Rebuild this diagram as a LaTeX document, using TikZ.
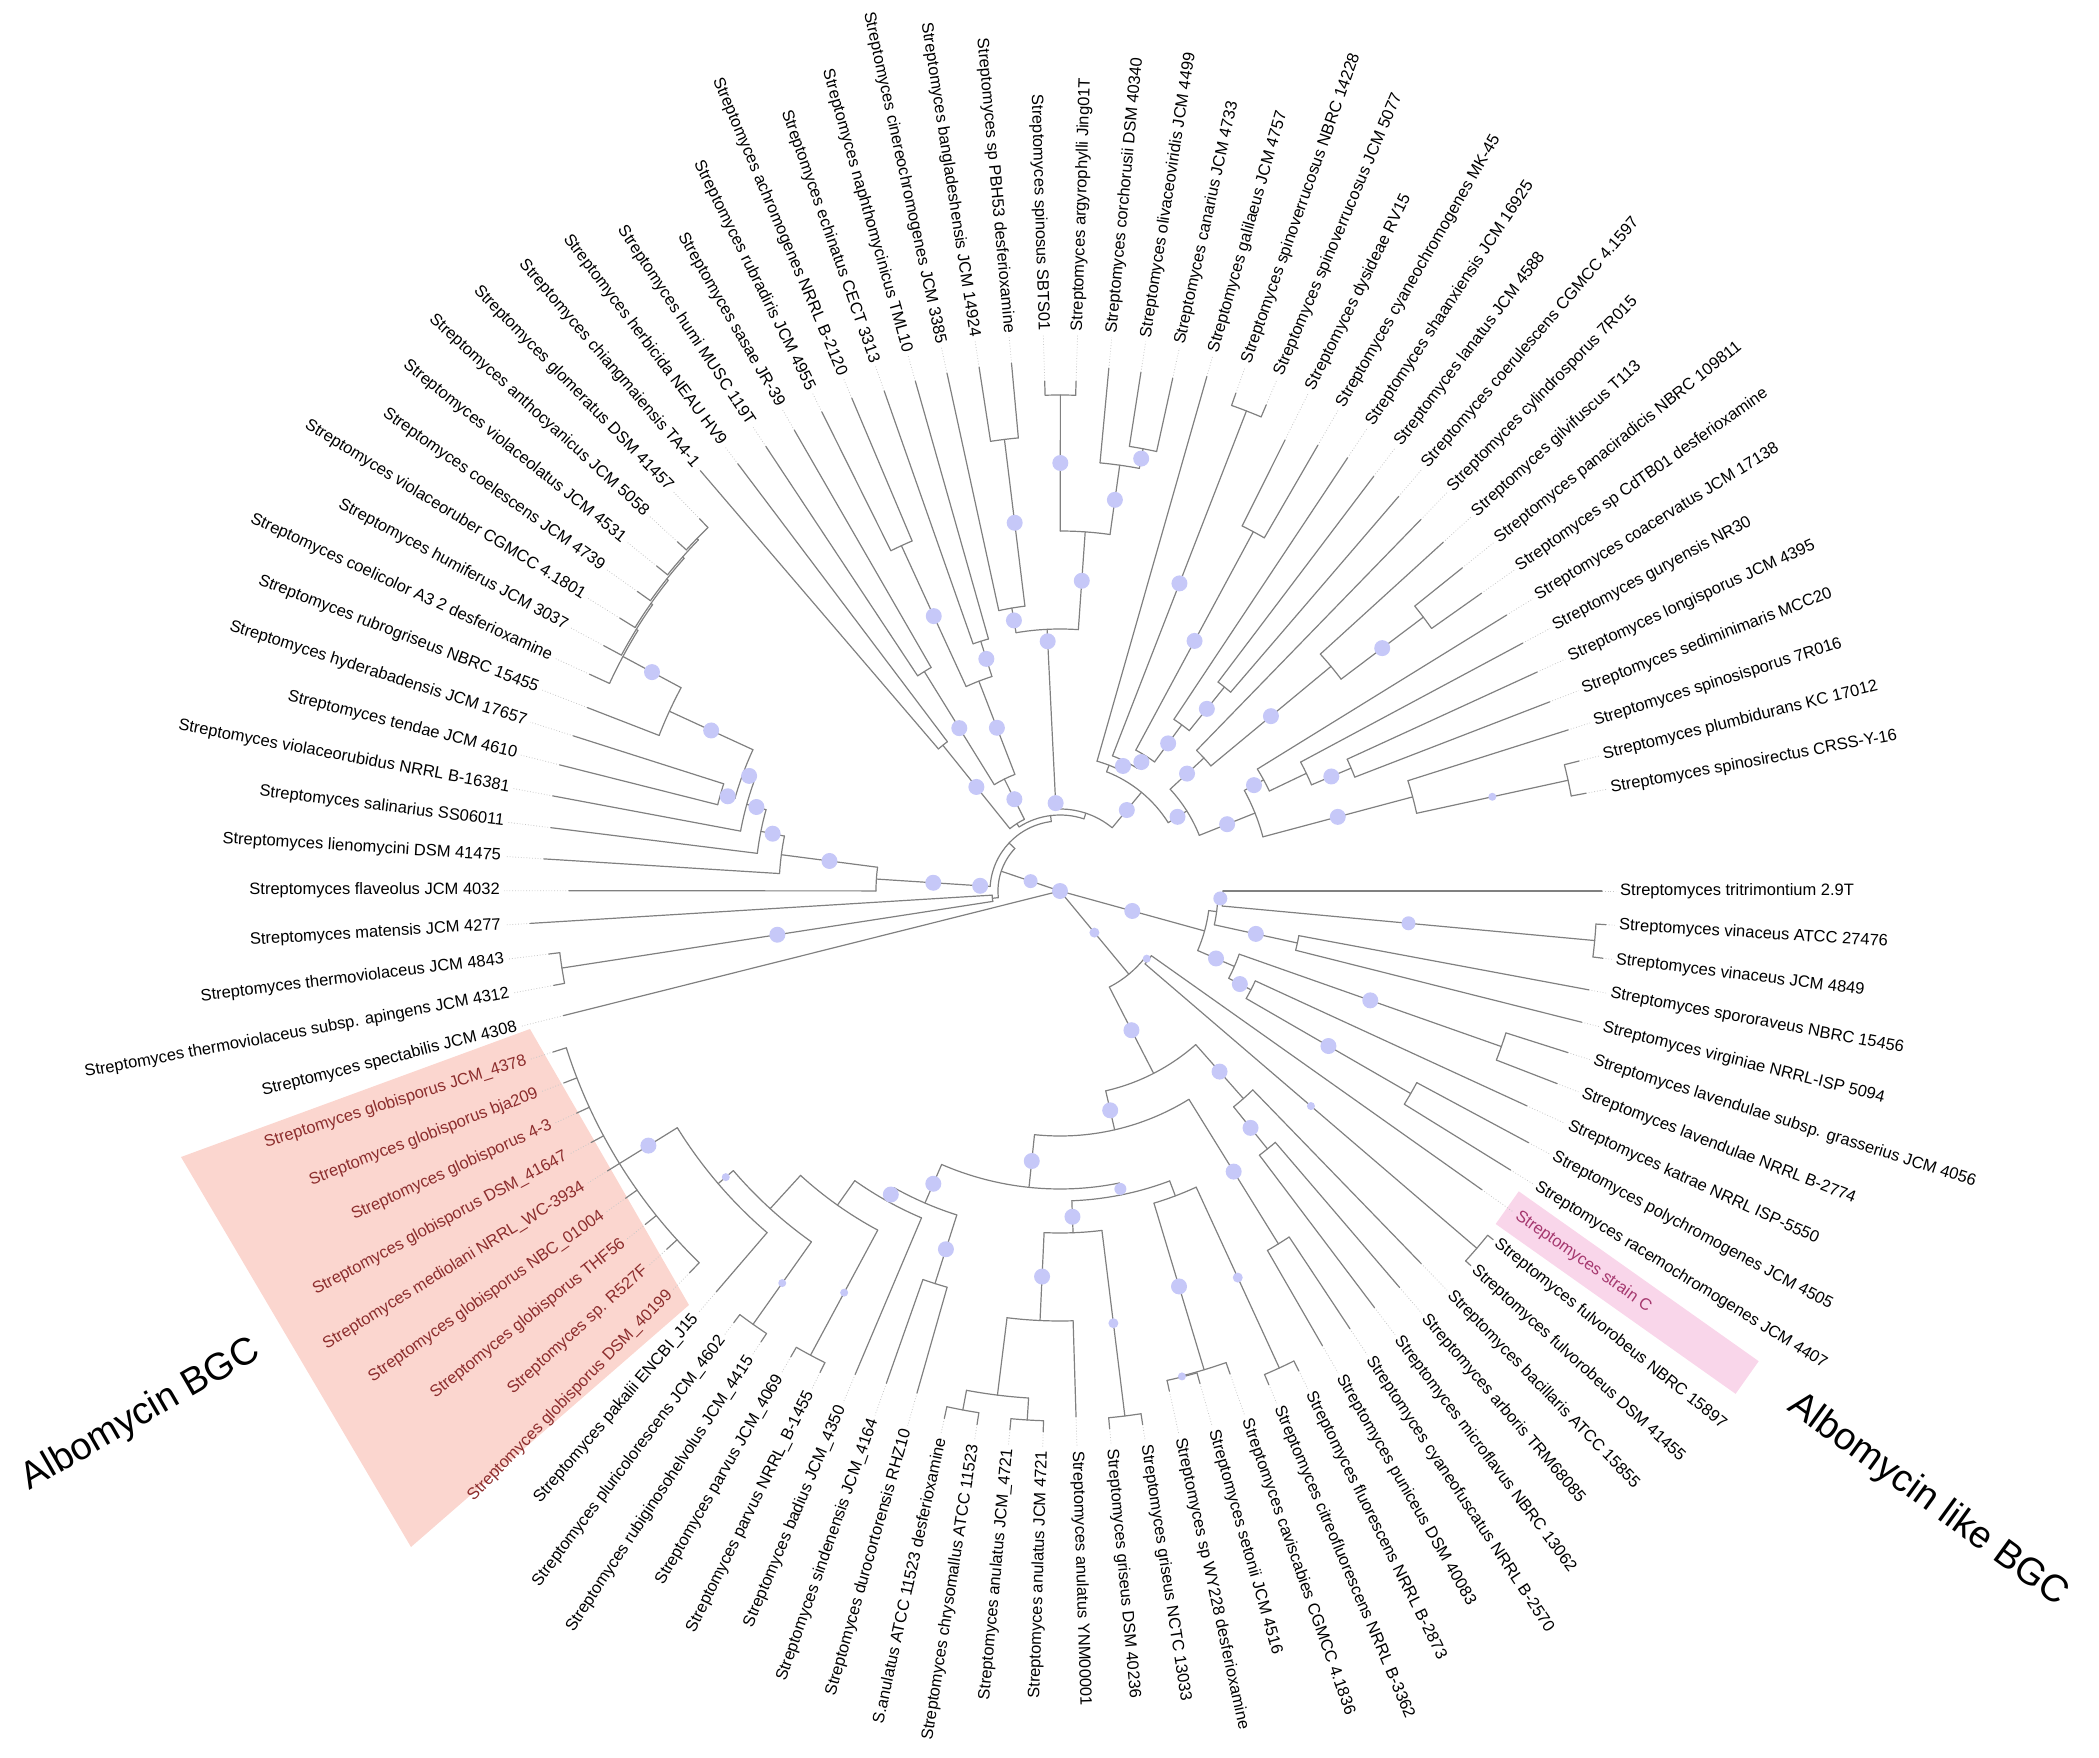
\documentclass[tikz,border=0pt]{standalone}
\usepackage{fontspec}
\setmainfont{Liberation Sans}
\definecolor{branch}{RGB}{128,128,128}
\definecolor{bsfill}{RGB}{198,200,248}
\definecolor{salmon}{RGB}{251,214,207}
\definecolor{pinkc}{RGB}{249,214,234}
\definecolor{albred}{RGB}{140,45,45}
\definecolor{strainc}{RGB}{165,55,110}
\tikzset{
  br/.style={draw=branch, line width=1.2pt, line cap=round},
  leafdot/.style={draw=black!22, line width=0.8pt, dotted},
  bsdot/.style={fill=bsfill},
  tip/.style={font=\fontsize{16.5}{19}\selectfont, inner sep=0pt},
  albo/.style={text=albred},
  strc/.style={text=strainc},
  bgc/.style={font=\fontsize{38}{44}\selectfont}
}
% leaf k sits at angle -3.53*(k-1)
\newcommand{\ang}[1]{-3.53*(#1-1)}
% leaf: index, tip radius, label, label style
\newcommand{\lf}[4]{%
  \expandafter\gdef\csname P#1\endcsname{#1}%
  \expandafter\gdef\csname R#1\endcsname{#2}%
  \expandafter\gdef\csname D#1\endcsname{0}%
  \pgfmathsetmacro\leafang{\ang{#1}}%
  \draw[leafdot] (\leafang:#2) -- (\leafang:556);
  \pgfmathtruncatemacro\side{cos(\leafang)>0}%
  \ifnum\side=1
    \node[tip,#4,anchor=west,rotate=\leafang] at (\leafang:560) {#3};
  \else
    \node[tip,#4,anchor=east,rotate=\leafang+180] at (\leafang:560) {#3};
  \fi}
% branch from a parent radius out to a child, bootstrap dot half way
\newcommand{\stem}[3]{%
  \draw[br] (#2:#3) -- (#2:\csname R#1\endcsname);
  \ifdim\csname D#1\endcsname pt>0pt
    \fill[bsdot] (#2:{(#3+\csname R#1\endcsname)/2}) circle[radius=\csname D#1\endcsname];
  \fi}
% inner node: name, child, child, radius, dot size
\newcommand{\nd}[5]{%
  \pgfmathsetmacro\posA{\csname P#2\endcsname}%
  \pgfmathsetmacro\posB{\csname P#3\endcsname}%
  \pgfmathsetmacro\pmid{(\posA+\posB)/2}%
  \expandafter\xdef\csname P#1\endcsname{\pmid}%
  \expandafter\gdef\csname R#1\endcsname{#4}%
  \expandafter\gdef\csname D#1\endcsname{#5}%
  \pgfmathsetmacro\angA{\ang{\posA}}%
  \pgfmathsetmacro\angB{\ang{\posB}}%
  \draw[br] (\angA:#4) arc[start angle=\angA, end angle=\angB, radius=#4];
  \stem{#2}{\angA}{#4}%
  \stem{#3}{\angB}{#4}}
% flat node over a run of leaves
\newcommand{\poly}[5]{%
  \pgfmathsetmacro\pmid{(#2+#3)/2}%
  \expandafter\xdef\csname P#1\endcsname{\pmid}%
  \expandafter\gdef\csname R#1\endcsname{#4}%
  \expandafter\gdef\csname D#1\endcsname{#5}%
  \pgfmathsetmacro\angA{\ang{#2}}%
  \pgfmathsetmacro\angB{\ang{#3}}%
  \draw[br] (\angA:#4) arc[start angle=\angA, end angle=\angB, radius=#4];
  \foreach \k in {#2,...,#3}{\pgfmathsetmacro\angK{\ang{\k}}\stem{\k}{\angK}{#4}}}
\newcommand{\rootst}[1]{%
  \pgfmathsetmacro\angR{\ang{\csname P#1\endcsname}}\stem{#1}{\angR}{0}}
\newcommand{\xdot}[3]{%
  \pgfmathsetmacro\angX{\ang{\csname P#1\endcsname}}\fill[bsdot] (\angX:#2) circle[radius=#3];}

\begin{document}
\begin{tikzpicture}[x=1pt,y=1pt]
\useasboundingbox (-1060,-866) rectangle (1039,891);
\fill[salmon] (-530,-138) -- (-879,-266) -- (-649,-656) -- (-371,-414) -- cycle;
\fill[pinkc,rotate=-35.3] (548,-20) rectangle (842,20);

\lf{1}{542}{Streptomyces tritrimontium 2.9T}{}
\lf{2}{547}{Streptomyces vinaceus ATCC 27476}{}
\lf{3}{547}{Streptomyces vinaceus JCM 4849}{}
\lf{4}{538}{Streptomyces spororaveus NBRC 15456}{}
\lf{5}{538}{Streptomyces virginiae NRRL-ISP 5094}{}
\lf{6}{533}{Streptomyces lavendulae subsp. grasserius JCM 4056}{}
\lf{7}{533}{Streptomyces lavendulae NRRL B-2774}{}
\lf{8}{514}{Streptomyces katrae NRRL ISP-5550}{}
\lf{9}{532}{Streptomyces polychromogenes JCM 4505}{}
\lf{10}{530}{Streptomyces racemochromogenes JCM 4407}{}
\lf{11}{517}{Streptomyces strain C}{strc}
\lf{12}{556}{Streptomyces fulvorobeus NBRC 15897}{}
\lf{13}{556}{Streptomyces fulvorobeus DSM 41455}{}
\lf{14}{519}{Streptomyces bacillaris ATCC 15855}{}
\lf{15}{522}{Streptomyces arboris TRM68085}{}
\lf{16}{522}{Streptomyces microflavus NBRC 13062}{}
\lf{17}{525}{Streptomyces cyaneofuscatus NRRL B-2570}{}
\lf{18}{525}{Streptomyces puniceus DSM 40083}{}
\lf{19}{536}{Streptomyces fluorescens NRRL B-2873}{}
\lf{20}{536}{Streptomyces citreofluorescens NRRL B-3362}{}
\lf{21}{512}{Streptomyces caviscabies CGMCC 4.1836}{}
\lf{22}{512}{Streptomyces setonii JCM 4516}{}
\lf{23}{512}{Streptomyces sp WY228 desferioxamine}{}
\lf{24}{540}{Streptomyces griseus NCTC 13033}{}
\lf{25}{540}{Streptomyces griseus DSM 40236}{}
\lf{26}{526}{Streptomyces anulatus YNM00001}{}
\lf{27}{541}{Streptomyces anulatus JCM 4721}{}
\lf{28}{541}{Streptomyces anulatus JCM\_4721}{}
\lf{29}{540}{Streptomyces chrysomallus ATCC 11523}{}
\lf{30}{540}{S.anulatus ATCC 11523 desferioxamine}{}
\lf{31}{522}{Streptomyces durocortorensis RHZ10}{}
\lf{32}{522}{Streptomyces sindenensis JCM\_4164}{}
\lf{33}{525}{Streptomyces badius JCM\_4350}{}
\lf{34}{538}{Streptomyces parvus NRRL\_B-1455}{}
\lf{35}{538}{Streptomyces parvus JCM\_4069}{}
\lf{36}{541}{Streptomyces rubiginosohelvolus JCM\_4415}{}
\lf{37}{541}{Streptomyces pluricolorescens JCM\_4602}{}
\lf{38}{528}{Streptomyces pakalii ENCBI\_J15}{}
\lf{39}{532}{Streptomyces globisporus DSM\_40199}{albo}
\lf{40}{532}{Streptomyces sp. R527F}{albo}
\lf{41}{532}{Streptomyces globisporus THF56}{albo}
\lf{42}{532}{Streptomyces globisporus NBC\_01004}{albo}
\lf{43}{532}{Streptomyces mediolani NRRL\_WC-3934}{albo}
\lf{44}{532}{Streptomyces globisporus DSM\_41647}{albo}
\lf{45}{532}{Streptomyces globisporus 4-3}{albo}
\lf{46}{532}{Streptomyces globisporus bja209}{albo}
\lf{47}{532}{Streptomyces globisporus JCM\_4378}{albo}
\lf{48}{512}{Streptomyces spectabilis JCM 4308}{}
\lf{49}{515}{Streptomyces thermoviolaceus subsp. apingens JCM 4312}{}
\lf{50}{515}{Streptomyces thermoviolaceus JCM 4843}{}
\lf{51}{531}{Streptomyces matensis JCM 4277}{}
\lf{52}{491}{Streptomyces flaveolus JCM 4032}{}
\lf{53}{517}{Streptomyces lienomycini DSM 41475}{}
\lf{54}{513}{Streptomyces salinarius SS06011}{}
\lf{55}{516}{Streptomyces violaceorubidus NRRL B-16381}{}
\lf{56}{516}{Streptomyces tendae JCM 4610}{}
\lf{57}{511}{Streptomyces hyderabadensis JCM 17657}{}
\lf{58}{507}{Streptomyces rubrogriseus NBRC 15455}{}
\lf{59}{518}{Streptomyces coelicolor A3 2 desferioxamine}{}
\lf{60}{518}{Streptomyces humiferus JCM 3037}{}
\lf{61}{518}{Streptomyces violaceoruber CGMCC 4.1801}{}
\lf{62}{518}{Streptomyces coelescens JCM 4739}{}
\lf{63}{518}{Streptomyces violaceolatus JCM 4531}{}
\lf{64}{518}{Streptomyces anthocyanicus JCM 5058}{}
\lf{65}{518}{Streptomyces glomeratus DSM 41457}{}
\lf{66}{553}{Streptomyces chiangmaiensis TA4-1}{}
\lf{67}{535}{Streptomyces herbicida NEAU HV9}{}
\lf{68}{533}{Streptomyces humi MUSC 119T}{}
\lf{69}{532}{Streptomyces sasae JR-39}{}
\lf{70}{535}{Streptomyces rubradiris JCM 4955}{}
\lf{71}{535}{Streptomyces achromogenes NRRL B-2120}{}
\lf{72}{530}{Streptomyces echinatus CECT 3313}{}
\lf{73}{530}{Streptomyces naphthomycinicus TML10}{}
\lf{74}{530}{Streptomyces cinereochromogenes JCM 3385}{}
\lf{75}{530}{Streptomyces bangladeshensis JCM 14924}{}
\lf{76}{530}{Streptomyces sp PBH53 desferioxamine}{}
\lf{77}{510}{Streptomyces spinosus SBTS01}{}
\lf{78}{510}{Streptomyces argyrophylli Jing01T}{}
\lf{79}{525}{Streptomyces corchorusii DSM 40340}{}
\lf{80}{525}{Streptomyces olivaceoviridis JCM 4499}{}
\lf{81}{525}{Streptomyces canarius JCM 4733}{}
\lf{82}{535}{Streptomyces galilaeus JCM 4757}{}
\lf{83}{528}{Streptomyces spinoverrucosus NBRC 14228}{}
\lf{84}{528}{Streptomyces spinoverrucosus JCM 5077}{}
\lf{85}{504}{Streptomyces dysideae RV15}{}
\lf{86}{515}{Streptomyces cyaneochromogenes MK-45}{}
\lf{87}{520}{Streptomyces shaanxiensis JCM 16925}{}
\lf{88}{520}{Streptomyces lanatus JCM 4588}{}
\lf{89}{520}{Streptomyces coerulescens CGMCC 4.1597}{}
\lf{90}{518}{Streptomyces cylindrosporus 7R015}{}
\lf{91}{518}{Streptomyces gilvifuscus T113}{}
\lf{92}{516}{Streptomyces panaciradicis NBRC 109811}{}
\lf{93}{516}{Streptomyces sp CdTB01 desferioxamine}{}
\lf{94}{525}{Streptomyces coacervatus JCM 17138}{}
\lf{95}{525}{Streptomyces guryensis NR30}{}
\lf{96}{525}{Streptomyces longisporus JCM 4395}{}
\lf{97}{525}{Streptomyces sediminimaris MCC20}{}
\lf{98}{533}{Streptomyces spinosisporus 7R016}{}
\lf{99}{535}{Streptomyces plumbidurans KC 17012}{}
\lf{100}{535}{Streptomyces spinosirectus CRSS-Y-16}{}

% right clade
\nd{n23}{2}{3}{537}{7}
\nd{a1}{1}{n23}{163}{7}
\nd{n45}{4}{5}{243}{8}
\nd{r1}{a1}{n45}{158}{0}
\nd{n67}{6}{7}{468}{8}
\nd{n910}{9}{10}{405}{8}
\nd{c8}{8}{n910}{215}{8}
\nd{r2}{n67}{c8}{190}{8}
\nd{rr}{r1}{r2}{150}{8}
% lower clade
\nd{n1213}{12}{13}{549}{4}
\nd{q}{11}{n1213}{112}{4}
\nd{n1516}{15}{16}{331}{8}
\nd{qq}{14}{n1516}{277}{8}
\nd{n1718}{17}{18}{415}{8}
\nd{n2223}{22}{23}{501}{4}
\nd{n2123}{21}{n2223}{500}{8}
\nd{n1920}{19}{20}{525}{5}
\nd{b5}{n2123}{n1920}{326}{0}
\nd{n2425}{24}{25}{529}{5}
\nd{n2728}{27}{28}{530}{0}
\nd{n2930}{29}{30}{528}{0}
\nd{bd}{n2930}{n2728}{508}{0}
\nd{be}{26}{bd}{430}{8}
\nd{bf}{n2425}{be}{342}{8}
\nd{b4}{bf}{b5}{310}{6}
\nd{n3132}{31}{32}{412}{8}
\nd{n3435}{34}{35}{527}{4}
\nd{n3637}{36}{37}{531}{4}
\poly{s}{39}{47}{518}{8}
\nd{v}{s}{38}{450}{4}
\nd{w4}{v}{n3637}{430}{0}
\nd{w3}{w4}{n3435}{385}{0}
\nd{w2}{w3}{33}{355}{8}
\nd{w}{w2}{n3132}{340}{8}
\nd{b3}{w}{b4}{298}{8}
\nd{b2}{b3}{n1718}{245}{8}
\nd{b1}{b2}{qq}{205}{8}
\nd{b0}{b1}{q}{108}{5}
% left ladder
\nd{n4950}{49}{50}{504}{8}
\nd{x1}{51}{n4950}{68}{0}
\nd{k1}{64}{65}{506}{0}
\nd{k2}{63}{k1}{504}{0}
\nd{k3}{62}{k2}{502}{0}
\nd{k4}{61}{k3}{500}{0}
\nd{k5}{60}{k4}{498}{0}
\nd{comb}{59}{k5}{496}{8}
\nd{n58}{58}{comb}{430}{8}
\nd{n5657}{56}{57}{353}{8}
\nd{l5}{n58}{n5657}{338}{8}
\nd{l4}{l5}{55}{325}{8}
\nd{l3}{l4}{54}{305}{8}
\nd{l2}{l3}{53}{281}{8}
\nd{l1}{l2}{52}{184}{8}
% upper clades
\nd{n6667}{66}{67}{187}{8}
\nd{n6869}{68}{69}{258}{8}
\nd{n7071}{70}{71}{380}{8}
\nd{n7273}{72}{73}{262}{8}
\nd{tla}{n7071}{n7273}{225}{8}
\nd{tlq}{n6869}{tla}{125}{8}
\nd{tl}{n6667}{tlq}{80}{0}
\nd{n7576}{75}{76}{455}{8}
\nd{n7476}{74}{n7576}{287}{8}
\nd{n7778}{77}{78}{496}{8}
\nd{n8081}{80}{81}{450}{8}
\nd{n7981}{79}{n8081}{430}{8}
\nd{tm1}{n7778}{n7981}{360}{8}
\nd{tm2}{n7476}{tm1}{262}{0}
\nd{n8384}{83}{84}{515}{8}
\nd{n8586}{85}{86}{408}{8}
\nd{n8889}{88}{89}{262}{8}
\nd{n8789}{87}{n8889}{206}{8}
\nd{tra3}{n8586}{n8789}{160}{8}
\nd{tra2}{n8384}{tra3}{145}{8}
\nd{tra}{82}{tra2}{135}{0}
\nd{n9293}{92}{93}{455}{8}
\nd{n9193}{91}{n9293}{352}{8}
\nd{trb1}{90}{n9193}{196}{8}
\nd{n9697}{96}{97}{316}{8}
\nd{trc}{95}{n9697}{273}{0}
\nd{trb2}{94}{trc}{232}{8}
\nd{n99100}{99}{100}{520}{4}
\nd{trd}{98}{n99100}{365}{8}
\nd{tre}{trb2}{trd}{210}{8}
\nd{trb}{trb1}{tre}{150}{8}
\nd{tr}{tra}{trb}{128}{8}
\nd{ta}{tm2}{tr}{82}{0}
\nd{tb}{tl}{ta}{76}{0}
\nd{m2}{l1}{tb}{70}{0}
\nd{m1}{x1}{m2}{62}{7}
% root
\rootst{m1}
\rootst{48}
\rootst{b0}
\rootst{rr}
\fill[bsdot] (0,0) circle[radius=8];
\xdot{l1}{80}{8}
\xdot{tm2}{88}{8}
\xdot{tm2}{250}{8}

\node[bgc,rotate=30] (albo) at (-919,-524) {Albomycin BGC};
\node[bgc,rotate=-36] (albolike) at (868,-609) {Albomycin like BGC};
\end{tikzpicture}
\end{document}
